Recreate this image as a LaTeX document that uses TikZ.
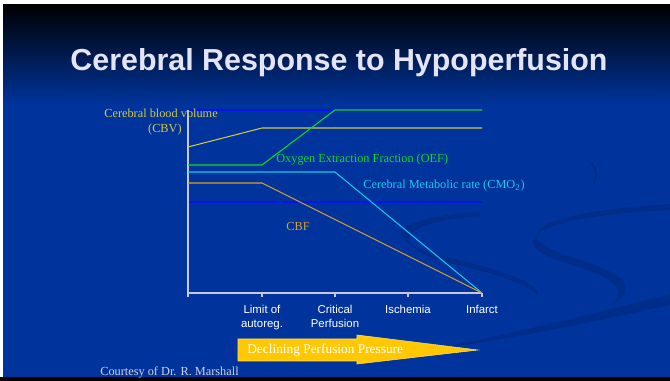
\documentclass[tikz,border=0pt]{standalone}
\usepackage{fontspec}
\setmainfont{Liberation Serif}
\setsansfont{Liberation Sans}
\usetikzlibrary{positioning}
\usepackage{xcolor}
\definecolor{SlideBlue}{HTML}{00349C}
\definecolor{SwooshBlue}{HTML}{002C8A}
\definecolor{TitleLav}{HTML}{E4E4F4}
\definecolor{AxisGray}{HTML}{C8C8DC}
\definecolor{CbvYellow}{HTML}{D0C848}
\definecolor{OefGreen}{HTML}{10D820}
\definecolor{CmoCyan}{HTML}{18C8E8}
\definecolor{CbfOrange}{HTML}{D8A028}
\definecolor{RefBlue}{HTML}{0814F0}
\definecolor{ArrowGold}{HTML}{FFC800}
\definecolor{NoteGray}{HTML}{D0D0DC}

\begin{document}
\begin{tikzpicture}[
  x=0.02cm, y=-0.02cm,
  curve/.style={line width=0.6pt},
  lbl/.style={font=\fontsize{7}{8}\selectfont, inner sep=0pt},
  tick/.style={font=\sffamily\fontsize{6.5}{8}\selectfont, text=white, align=center, inner sep=0pt, anchor=north},
  swoosh/.style={fill=SwooshBlue}
]
\useasboundingbox (0,0) rectangle (670,381);

% Background
\fill[SlideBlue] (0,0) rectangle (670,381);
\shade[top color=black, bottom color=SlideBlue] (0,4) rectangle (670,105);
\fill[white] (0,0) rectangle (670,4);
\fill[white] (0,0) rectangle (3,381);
\fill[black] (0,377) rectangle (670,381);

% Swooshes
\path[swoosh] (480,212) .. controls (385,218) and (378,242) .. (450,258)
  .. controls (510,272) and (540,284) .. (538,296)
  .. controls (528,284) and (500,275) .. (450,263)
  .. controls (392,249) and (392,222) .. (480,216) -- cycle;
\path[swoosh] (670,204) .. controls (540,212) and (505,234) .. (565,255)
  .. controls (620,272) and (645,285) .. (610,306)
  .. controls (632,288) and (610,276) .. (560,261)
  .. controls (500,240) and (540,216) .. (670,210) -- cycle;
\path[swoosh] (430,350) .. controls (520,332) and (600,312) .. (670,294)
  -- (670,305) .. controls (600,320) and (520,338) .. (430,350) -- cycle;
\path[swoosh] (588,160) .. controls (600,168) and (600,178) .. (592,186)
  .. controls (596,176) and (596,168) .. (588,160) -- cycle;

% Title
\node[font=\sffamily\bfseries\fontsize{17.3}{20}\selectfont, text=TitleLav] (title) at (339,63) {Cerebral Response to Hypoperfusion};

% Reference lines
\draw[RefBlue, curve] (188,110) -- (482,110);
\draw[RefBlue, curve] (188,202) -- (482,202);

% Axes
\draw[AxisGray, line width=0.8pt] (188,110) -- (188,293) -- (482,293);
\foreach \tx in {188,262,335,408,482}
  \draw[AxisGray, line width=0.8pt] (\tx,293) -- (\tx,297);

% Curves
\draw[CbvYellow, curve] (188,147) -- (262,128) -- (482,128);
\draw[OefGreen, curve] (188,165) -- (262,165) -- (335,110) -- (482,110);
\draw[CmoCyan, curve] (188,172) -- (335,172) -- (482,293);
\draw[CbfOrange, curve] (188,183) -- (262,183) -- (482,293);

% Curve labels
\node[lbl, text=CbvYellow, anchor=west] (cbv) at (104,113) {Cerebral blood volume};
\node[lbl, text=CbvYellow, anchor=east] (cbvabbr) at (182,130) {(CBV)};
\node[lbl, text=OefGreen, anchor=west] (oef) at (276,160) {Oxygen Extraction Fraction (OEF)};
\node[lbl, text=CmoCyan, anchor=west] (cmo) at (363,186) {Cerebral Metabolic rate (CMO\textsubscript{2})};
\node[lbl, text=CbfOrange] (cbf) at (298,226) {CBF};

% Axis labels
\node[tick] (limit) at (262,305) {Limit of\\autoreg.};
\node[tick] (crit) at (335,305) {Critical\\Perfusion};
\node[tick] (isch) at (408,305) {Ischemia};
\node[tick] (infarct) at (482,305) {Infarct};

% Perfusion arrow
\fill[ArrowGold, draw=ArrowGold!60!white, line width=0.3pt]
  (238,339) -- (357,339) -- (357,335) -- (478,350) -- (357,364) -- (357,361) -- (238,361) -- cycle;
\node[font=\fontsize{7.6}{9}\selectfont, text=white, anchor=west, inner sep=0pt] (decl) at (247,350) {Declining Perfusion Pressure};

% Credit
\node[lbl, text=NoteGray, anchor=west] (credit) at (100,372) {Courtesy of Dr. R. Marshall};

\end{tikzpicture}
\end{document}
